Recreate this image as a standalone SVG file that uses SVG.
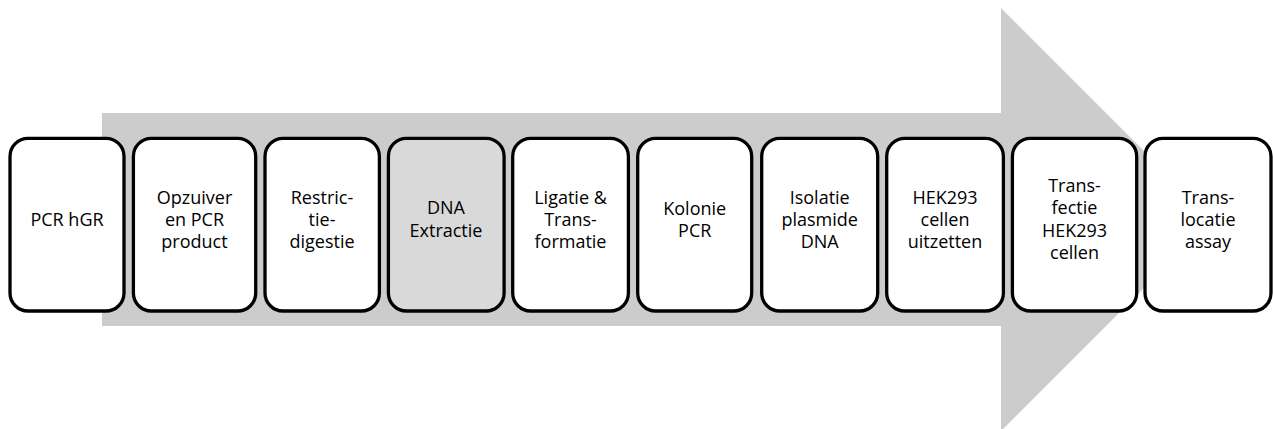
<svg xmlns="http://www.w3.org/2000/svg" width="1273" height="429" viewBox="0 0 1273 429">
  <style>
    .box { fill: #ffffff; stroke: #000000; stroke-width: 3.3; }
    .box.hl { fill: #d9d9d9; }
    .lbl { font-family: "Open Sans", "Liberation Sans", sans-serif; font-size: 18px; fill: #000000; text-anchor: middle; }
  </style>
  <rect width="1273" height="429" fill="#ffffff"/>

  <!-- background process arrow -->
  <g id="connectors">
    <polygon points="102,113 1001,113 1001,8 1212.5,219.5 1001,431 1001,326 102,326" fill="#cccccc"/>
  </g>

  <g id="step1">
    <rect class="box" x="10" y="138.4" width="114" height="172.6" rx="18"/>
    <text class="lbl" x="67" y="226">PCR hGR</text>
  </g>
  <g id="step2">
    <rect class="box" x="133.4" y="138.4" width="122.3" height="172.6" rx="18"/>
    <text class="lbl" x="194.5" y="203.7">Opzuiver</text>
    <text class="lbl" x="194.5" y="226">en PCR</text>
    <text class="lbl" x="194.5" y="248.3">product</text>
  </g>
  <g id="step3">
    <rect class="box" x="265" y="138.4" width="114.4" height="172.6" rx="18"/>
    <text class="lbl" x="322" y="203.7">Restric-</text>
    <text class="lbl" x="322" y="226">tie-</text>
    <text class="lbl" x="322" y="248.3">digestie</text>
  </g>
  <g id="step4">
    <rect class="box hl" x="388.4" y="138.4" width="115.7" height="172.6" rx="18"/>
    <text class="lbl" x="446" y="214.3">DNA</text>
    <text class="lbl" x="446" y="237.3">Extractie</text>
  </g>
  <g id="step5">
    <rect class="box" x="512.7" y="138.4" width="115.7" height="172.6" rx="18"/>
    <text class="lbl" x="570.5" y="203.7">Ligatie &amp;</text>
    <text class="lbl" x="570.5" y="226">Trans-</text>
    <text class="lbl" x="570.5" y="248.3">formatie</text>
  </g>
  <g id="step6">
    <rect class="box" x="637.7" y="138.4" width="114" height="172.6" rx="18"/>
    <text class="lbl" x="694.7" y="214.8">Kolonie</text>
    <text class="lbl" x="694.7" y="237.2">PCR</text>
  </g>
  <g id="step7">
    <rect class="box" x="761.7" y="138.4" width="116" height="172.6" rx="18"/>
    <text class="lbl" x="819.7" y="203.7">Isolatie</text>
    <text class="lbl" x="819.7" y="226">plasmide</text>
    <text class="lbl" x="819.7" y="248.3">DNA</text>
  </g>
  <g id="step8">
    <rect class="box" x="886.7" y="138.4" width="116.7" height="172.6" rx="18"/>
    <text class="lbl" x="945" y="203.7">HEK293</text>
    <text class="lbl" x="945" y="226">cellen</text>
    <text class="lbl" x="945" y="248.3">uitzetten</text>
  </g>
  <g id="step9">
    <rect class="box" x="1012.4" y="138.4" width="124.3" height="172.6" rx="18"/>
    <text class="lbl" x="1074.5" y="192">Trans-</text>
    <text class="lbl" x="1074.5" y="214.3">fectie</text>
    <text class="lbl" x="1074.5" y="236.6">HEK293</text>
    <text class="lbl" x="1074.5" y="258.9">cellen</text>
  </g>
  <g id="step10">
    <rect class="box" x="1145" y="138.4" width="126" height="172.6" rx="18"/>
    <text class="lbl" x="1208" y="203.7">Trans-</text>
    <text class="lbl" x="1208" y="226">locatie</text>
    <text class="lbl" x="1208" y="248.3">assay</text>
  </g>
</svg>
